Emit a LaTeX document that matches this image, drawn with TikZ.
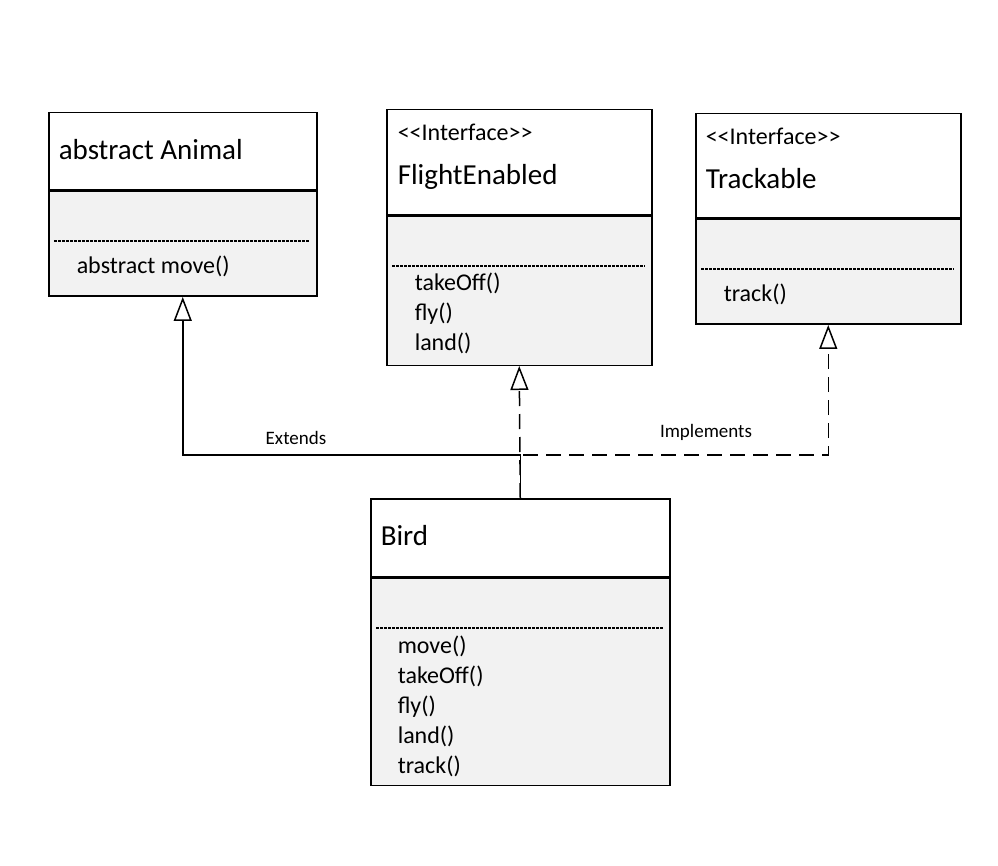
\documentclass[tikz,border=0pt]{standalone}
\usepackage{fontspec}
\setmainfont{Carlito}
\usetikzlibrary{arrows.meta}

\begin{document}
\begin{tikzpicture}[x=1pt,y=-1pt,line width=1.5pt,
    hdr/.style={rectangle,draw,fill=white,inner sep=0pt,anchor=north west},
    bdy/.style={rectangle,draw,fill=black!5,inner sep=0pt,anchor=north},
    sep/.style={line width=1.1pt,dash pattern=on 2.5pt off 1.5pt},
    title/.style={anchor=base west,inner sep=0pt,font=\fontsize{29}{35}\selectfont},
    op/.style={anchor=base west,inner sep=0pt,font=\fontsize{24}{29}\selectfont},
    lbl/.style={inner sep=0pt,font=\fontsize{19}{23}\selectfont},
    extends/.style={-{Triangle[open,length=24pt,width=18pt,line width=1.5pt]}},
    implements/.style={extends,dash pattern=on 15pt off 8pt}]

    \useasboundingbox[fill=white] (0,0) rectangle (998,866);

    % abstract class
    \node[hdr,minimum width=268pt,minimum height=77pt] (animal) at (48,112) {};
    \node[bdy,minimum width=268pt,minimum height=105pt] (animalbody) at (animal.south) {};
    \draw[sep] (54,241) -- (310,241);
    \node[title] (animalname) at (58,160) {abstract Animal};
    \node[op] (animalop1) at (76,274) {abstract move()};

    % interfaces
    \node[hdr,minimum width=265pt,minimum height=105pt] (flight) at (386,109) {};
    \node[bdy,minimum width=265pt,minimum height=149pt] (flightbody) at (flight.south) {};
    \draw[sep] (392,266) -- (645,266);
    \node[op] (flightstereo) at (397,141) {<{}<Interface>{}>};
    \node[title] (flightname) at (397,185) {FlightEnabled};
    \foreach \m [count=\i] in {takeOff(),fly(),land()}
        \node[op] (flightop\i) at (414,{261+30*\i}) {\m};

    \node[hdr,minimum width=265pt,minimum height=104pt] (trackable) at (695,113) {};
    \node[bdy,minimum width=265pt,minimum height=105pt] (trackablebody) at (trackable.south) {};
    \draw[sep] (701,269) -- (954,269);
    \node[op] (trackstereo) at (705,145) {<{}<Interface>{}>};
    \node[title] (trackname) at (705,189) {Trackable};
    \node[op] (trackop1) at (723,302) {track()};

    % concrete class
    \node[hdr,minimum width=299pt,minimum height=78pt] (bird) at (370,498) {};
    \node[bdy,minimum width=299pt,minimum height=207pt] (birdbody) at (bird.south) {};
    \draw[sep] (376,628) -- (664,628);
    \node[title] (birdname) at (380,545) {Bird};
    \foreach \m [count=\i] in {move(),takeOff(),fly(),land(),track()}
        \node[op] (birdop\i) at (397,{623+30*\i}) {\m};

    % relations
    \coordinate (extknee) at (296,455);
    \coordinate (implknee) at (706,455);
    \node[lbl] (extlbl) at (296,438) {Extends};
    \node[lbl] (impllbl) at (706,432) {Implements};

    \draw[implements] (bird.north) -- (flightbody.south);
    \draw[implements] (bird.north) |- (implknee) -| (trackablebody.south);
    \draw[extends] (bird.north) |- (extknee) -| (animalbody.south);

\end{tikzpicture}
\end{document}
